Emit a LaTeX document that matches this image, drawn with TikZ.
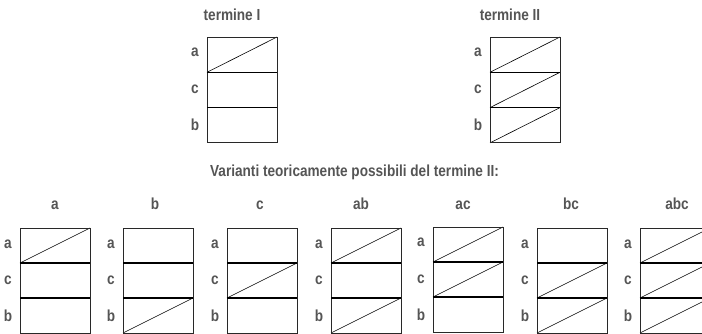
\documentclass[tikz,border=0pt]{standalone}
\usepackage{fontspec}
\usetikzlibrary{calc}
\setmainfont[FakeStretch=0.85,BoldFont={Liberation Sans Bold}]{Liberation Sans}
\definecolor{txtgray}{RGB}{85,85,85}
\definecolor{linegray}{RGB}{40,40,40}
\tikzset{
  lbl/.style={font=\bfseries\fontsize{16}{18}\selectfont, text=txtgray, inner sep=0pt, anchor=base},
  boxline/.style={draw=linegray, line width=0.8pt},
  divline/.style={draw=black, line width=1.3pt},
  diagline/.style={draw=black, line width=0.6pt}
}
\begin{document}
\begin{tikzpicture}[x=1pt,y=-1pt]
\useasboundingbox (0,0) rectangle (702,334);
\clip (0,0) rectangle (702,334);
% titles
\node[lbl] (tTI) at (232,20.5) {termine I};
\node[lbl] (tTII) at (510,20.5) {termine II};
\node[lbl] (tVar) at (354.5,177) {Varianti teoricamente possibili del termine II:};
\node[lbl] (ta) at (55,210) {a};
\node[lbl] (tb) at (155,210) {b};
\node[lbl] (tc) at (260,210) {c};
\node[lbl] (tab) at (361,210) {ab};
\node[lbl] (tac) at (463,210) {ac};
\node[lbl] (tbc) at (571,210) {bc};
\node[lbl] (tabc) at (677,210) {abc};
% boxes
\foreach \nm/\x/\y/\h/\d in {bI/207/37/35.3/{0}, bII/490/37/35.3/{0,1,2},
  ba/20/228/35/{0}, bb/123/228/35/{2}, bc/227/228/35/{1}, bab/331/228/35/{0,2},
  bac/433/227/35/{0,1}, bbc/537/228/35/{1,2}, babc/640/228/35/{0,1,2}}{
  \coordinate (\nm) at (\x,\y);
  \foreach \r in \d {
    \draw[diagline] ($(\nm)+(0,{(\r+1)*\h})$) -- ($(\nm)+(70,{\r*\h})$);
  }
  \draw[boxline] (\nm) rectangle ($(\nm)+(70,{3*\h})$);
  \draw[divline] ($(\nm)+(0,\h)$) -- ($(\nm)+(70,\h)$);
  \draw[divline] ($(\nm)+(0,{2*\h})$) -- ($(\nm)+(70,{2*\h})$);
  \node[lbl] (\nm-a) at ($(\nm)+(-12,20)$) {a};
  \node[lbl] (\nm-c) at ($(\nm)+(-12,{\h+21.5})$) {c};
  \node[lbl] (\nm-b) at ($(\nm)+(-12,{2*\h+23})$) {b};
}
\end{tikzpicture}
\end{document}
